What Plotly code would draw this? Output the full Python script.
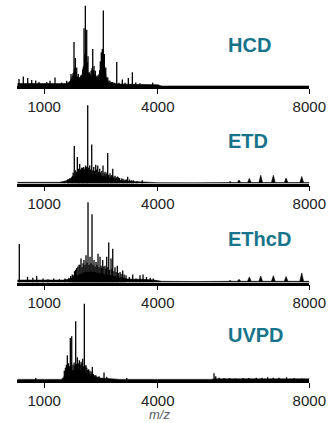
import plotly.graph_objects as go

# ---------------- data (m/z, relative intensity %) ----------------
tick_vals = [1000, 4000, 8000]
tick_text = ["1000", "4000", "8000"]
panel_names = ["HCD", "ETD", "EThcD", "UVPD"]

hcd_mz = [335, 448, 565, 670, 776, 863, 1066, 1154, 1286, 1463, 1595, 1708, 1787, 1822, 1859,
          1901, 1965, 2017, 2052, 2086, 2123, 2157, 2192, 2237, 2282, 2316, 2350, 2395, 2448,
          2482, 2508, 2535, 2561, 2588, 2625, 2678, 2738, 2810, 2915, 2976, 3063, 3135, 3222,
          3328, 3417, 3530, 3866,
          1740, 1760, 1805, 1840, 1880, 1935, 1990, 2035, 2070, 2105, 2140, 2175, 2215, 2260,
          2300, 2335, 2375, 2420, 2465, 2495, 2522, 2548, 2575, 2605, 2650, 2710, 2780, 2860]
hcd_int = [8.6, 12, 10, 7.4, 7, 5, 5, 6.5, 10.7, 4.5, 6.5, 15, 55, 35, 23,
           15, 13, 21, 72, 100, 70, 37, 17, 19, 46, 25, 19, 13, 15,
           31, 42, 46, 94, 40, 23, 11, 6.5, 5, 30, 4, 8, 4, 10,
           17, 4.5, 3.5, 4,
           12, 16, 22, 18, 12, 11, 14, 24, 40, 45, 30, 16, 15, 22,
           20, 15, 12, 13, 20, 28, 36, 38, 30, 20, 10, 7, 5, 4]
hcd_env_mz = [290, 1600, 1680, 1760, 1790, 1820, 1850, 1900, 1960, 2000, 2050, 2090, 2130, 2170,
              2220, 2270, 2300, 2340, 2400, 2440, 2480, 2510, 2540, 2580, 2610, 2650, 2700, 2800,
              3000, 3500, 4000, 4100, 5400, 5500, 7900, 8000]
hcd_env_int = [3, 3, 6, 12, 20, 18, 10, 9, 9, 13, 25, 30, 22, 13,
               11, 14, 13, 11, 9, 10, 18, 28, 32, 28, 16, 8, 4, 3,
               2.5, 2, 1.5, 0, 0, 0.8, 0.8, 0]

etd_mz = [1530, 1650, 1720, 1795, 1875, 1938, 1990, 2043, 2096, 2149, 2202, 2255, 2308, 2361,
          2414, 2467, 2553, 2606, 2677, 2738, 2810, 2870, 2957, 3047, 3135, 3205, 3300, 3590,
          1620, 1680, 1745, 1765, 1820, 1848, 1902, 1918, 1962, 2012, 2027, 2070, 2118, 2132,
          2176, 2226, 2282, 2332, 2388, 2440, 2492, 2522, 2582, 2632, 2656, 2702, 2762, 2787,
          2842, 2902, 2932, 2992, 3082, 3172, 3252, 3352, 3452]
etd_int = [3, 5, 8, 48, 34, 25, 20, 21, 23, 100, 23, 50, 21, 24,
           23, 19, 23, 15, 39, 13, 19, 10, 8, 6.3, 5, 8.5, 4, 4,
           5, 7, 10, 14, 17, 15, 19, 16, 18, 20, 17, 19, 21, 18,
           20, 18, 17, 16, 18, 15, 14, 16, 13, 12, 14, 11, 10, 11,
           9, 8, 9, 7, 6, 5, 5, 4, 3]
etd_env_mz = [290, 1400, 1550, 1650, 1750, 1850, 1950, 2050, 2150, 2250, 2350, 2450, 2550, 2650,
              2750, 2850, 2950, 3100, 3300, 3600, 4000, 5000, 5800,
              5870, 5908, 5950, 6100, 6145, 6190, 6370, 6417, 6465, 6670, 6718, 6765,
              7000, 7051, 7100, 7340, 7387, 7435, 7750, 7800, 7850, 8000]
etd_env_int = [1.5, 1.5, 3, 5, 8, 10, 11, 12, 13, 12, 11, 10, 9, 8,
               7, 6, 4, 3, 2.5, 2, 1, 0.8, 1.2,
               1.2, 2.5, 1.2, 1.2, 4.5, 1.2, 1.2, 6.5, 1.2, 1.2, 10.5, 1.2,
               1.2, 10.5, 1.2, 1.2, 7, 1.2, 1.2, 9, 1.2, 1.2]

ethcd_mz = [343, 560, 700, 802, 970, 1100, 1250, 1400, 1550, 1650, 1769, 1859, 1920, 1972, 2051,
            2104, 2157, 2210, 2263, 2316, 2369, 2421, 2474, 2545, 2606, 2651, 2704, 2765, 2810,
            2870, 2931, 3002, 3073, 3161, 3248, 3337, 3425, 3530, 3610, 3700, 3800, 3880,
            1700, 1740, 1800, 1830, 1890, 1945, 2000, 2025, 2078, 2130, 2185, 2236, 2290, 2342,
            2395, 2448, 2500, 2520, 2575, 2628, 2680, 2730, 2788, 2840, 2900, 2960, 3030, 3110]
ethcd_int = [48, 7, 6, 8, 5, 4, 5, 4, 5, 6, 9, 18, 22, 30, 28,
             34, 100, 32, 85, 28, 25.5, 36, 32, 28, 21, 32, 50, 30, 42,
             19, 21, 13, 15, 9, 7, 10, 5, 9, 10, 7, 6, 5,
             8, 10, 14, 16, 20, 22, 19, 24, 22, 25, 22, 24, 22, 20,
             22, 19, 21, 18, 20, 17, 19, 16, 17, 14, 13, 12, 11, 10]
ethcd_env_mz = [290, 1500, 1650, 1800, 1900, 2000, 2100, 2200, 2300, 2400, 2500, 2600, 2700, 2800,
                2900, 3000, 3200, 3400, 3600, 3900, 4100, 5000, 5800,
                5870, 5908, 5950, 6100, 6145, 6190, 6370, 6417, 6465, 6670, 6718, 6765,
                7000, 7051, 7100, 7340, 7387, 7435, 7750, 7800, 7850, 8000]
ethcd_env_int = [3, 3, 4, 7, 10, 12, 13, 13, 13, 12, 11, 10, 9, 8,
                 7, 6, 4.5, 4, 4, 3, 1.5, 1.2, 1.5,
                 1.5, 2.5, 1.5, 1.5, 4, 1.5, 1.5, 7, 1.5, 1.5, 8, 1.5,
                 1.5, 8.5, 1.5, 1.5, 7.5, 1.5, 1.5, 12, 1.5, 1.5]

uvpd_mz = [776, 1531, 1611, 1690, 1727, 1832, 1875, 1928, 1973, 2017, 2060, 2104, 2149, 2271,
           2342, 2414, 2580, 2651, 3180, 5485, 5530, 5620, 5750, 5900, 6050, 6250, 6400, 6600,
           6750, 6900, 7050, 7200, 7400, 7600, 7800,
           1560, 1585, 1640, 1665, 1710, 1760, 1790, 1810, 1855, 1900, 1950, 1995, 2040, 2080,
           2125, 2175, 2205, 2240, 2300, 2370, 2450]
uvpd_int = [2.5, 12, 32.5, 55, 57.5, 77, 30, 26, 24, 28, 100, 19.5, 13, 17,
            6.5, 4.3, 10, 4.3, 2.5, 9, 5, 3, 2.5, 2.5, 2, 2.5, 2.5, 3,
            3, 3.5, 3, 3, 3.5, 2.5, 2,
            16, 20, 22, 18, 24, 20, 23, 19, 21, 22, 20, 22, 18, 19,
            16, 14, 12, 11, 8, 6, 5]
uvpd_env_mz = [290, 1450, 1520, 1600, 1700, 1800, 1900, 2000, 2100, 2200, 2300, 2400, 2500, 2650,
               2800, 3000, 5400, 5500, 8000]
uvpd_env_int = [0.8, 0.8, 4, 9, 12, 13, 13, 12, 10, 7, 5, 3, 2.5, 2,
                1, 0.8, 0.8, 1.5, 1.5]

# ---------------- layout geometry (pixels) ----------------
W, H = 329, 423
x_left_px, x_right_px = 17.3, 309.3
mz_range = [290, 8000]
base_px = [86, 183.5, 282.5, 380]
hmax_px = [81, 79, 81, 77]
label_y_px = [44.8, 140.8, 239, 335]
label_x_px = 226
label_color = "#17748a"
FONT = "Liberation Sans, Arial, Helvetica, sans-serif"

panels = [
    (hcd_mz, hcd_int, hcd_env_mz, hcd_env_int),
    (etd_mz, etd_int, etd_env_mz, etd_env_int),
    (ethcd_mz, ethcd_int, ethcd_env_mz, ethcd_env_int),
    (uvpd_mz, uvpd_int, uvpd_env_mz, uvpd_env_int),
]


def sticks(mz, inten):
    xs, ys = [], []
    for m, i in zip(mz, inten):
        xs += [m, m, None]
        ys += [0, i, None]
    return xs, ys


fig = go.Figure()
layout = dict(
    width=W, height=H, autosize=False, margin=dict(l=0, r=0, t=0, b=0, pad=0),
    paper_bgcolor="white", plot_bgcolor="rgba(0,0,0,0)",
    showlegend=False, font=dict(family=FONT, color="#222222"),
)
annotations = []
xdom = [x_left_px / W, x_right_px / W]

for k, (mz, inten, emz, eint) in enumerate(panels):
    n = k + 1
    xa = "x" if n == 1 else f"x{n}"
    ya = "y" if n == 1 else f"y{n}"
    fig.add_trace(go.Scatter(x=emz, y=eint, mode="lines", fill="tozeroy",
                             fillcolor="black", line=dict(color="black", width=0.6),
                             xaxis=xa, yaxis=ya, hoverinfo="skip"))
    sx, sy = sticks(mz, inten)
    fig.add_trace(go.Scatter(x=sx, y=sy, mode="lines", line=dict(color="black", width=1.3),
                             xaxis=xa, yaxis=ya, hoverinfo="skip"))
    bottom = 1 - base_px[k] / H
    top = 1 - (base_px[k] - hmax_px[k]) / H
    layout[f"xaxis{'' if n == 1 else n}"] = dict(
        domain=xdom, anchor=ya, range=mz_range, showgrid=False, zeroline=False,
        automargin=False,
        showline=True, linecolor="black", linewidth=2.6,
        ticks="outside", ticklen=5, tickwidth=1.3, tickcolor="black",
        tickvals=tick_vals, ticktext=tick_text,
        tickfont=dict(family=FONT, size=15, color="#222222"),
    )
    layout[f"yaxis{'' if n == 1 else n}"] = dict(
        domain=[bottom, top], anchor=xa, range=[0, 101], visible=False, automargin=False,
    )
    annotations.append(dict(
        text=panel_names[k], xref="paper", yref="paper",
        x=label_x_px / W, y=1 - label_y_px[k] / H, xanchor="left", yanchor="middle",
        showarrow=False, font=dict(family=FONT, size=20, color=label_color, weight="bold"),
    ))

annotations.append(dict(
    text="<i>m/z</i>", xref="paper", yref="paper", x=159 / W, y=0,
    xanchor="center", yanchor="bottom", showarrow=False, borderpad=0,
    font=dict(family=FONT, size=13, color="#5a5a66"),
))
layout["annotations"] = annotations
fig.update_layout(**layout)
fig.write_html("out.html", config={"responsive": False, "displayModeBar": False})
